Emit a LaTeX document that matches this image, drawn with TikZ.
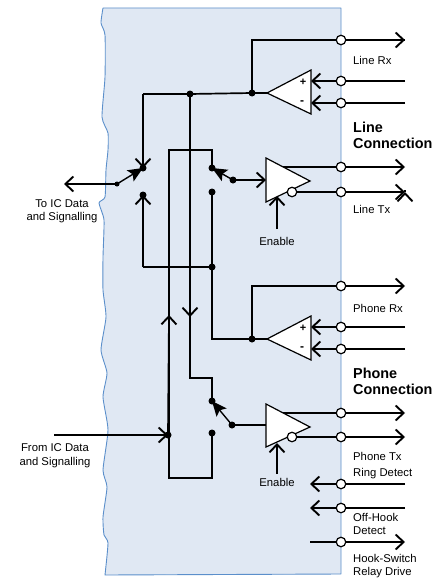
\documentclass[tikz,border=0pt]{standalone}
\usepackage{fontspec}
\setmainfont{Liberation Sans}
\usetikzlibrary{arrows.meta}
\definecolor{panelfill}{HTML}{E0E8F3}
\definecolor{panelline}{HTML}{5B8FCB}
\tikzset{
  wire/.style={line width=1.7pt,line join=miter},
  thin wire/.style={line width=1.4pt},
  open/.style={-{Straight Barb[length=8pt,width=15pt,line width=1.9pt]}},
  openrev/.style={{Straight Barb[length=8pt,width=15pt,line width=1.9pt]}-},
  solid tip/.style={-{Stealth[length=15pt,width=13pt,inset=3pt]}},
  dot/.style={circle,fill=black,draw=none,inner sep=0pt,minimum size=7pt},
  smalldot/.style={circle,fill=black,draw=none,inner sep=0pt,minimum size=5pt},
  port/.style={circle,fill=white,draw=black,line width=1.2pt,inner sep=0pt,minimum size=9.5pt},
  amp/.style={fill=white,draw=black,line width=1.2pt,line join=miter},
  lbl/.style={font=\fontsize{11.3}{13}\selectfont,inner sep=0pt,anchor=base west},
  lblc/.style={font=\fontsize{11.3}{13}\selectfont,inner sep=0pt,anchor=base},
  head/.style={font=\fontsize{14.4}{16}\selectfont\bfseries,inner sep=0pt,anchor=base west},
}
\begin{document}
\begin{tikzpicture}[x=1pt,y=-1pt]
\useasboundingbox (0,0) rectangle (436,578);
% panel
\draw[panelline,fill=panelfill,line width=0.9pt,line join=round]
  plot[smooth,tension=0.35] coordinates {(105,575) (108,543) (104,535) (103,517) (107,487) (103,470) (108,430) (103,397) (107,373) (101,350) (106,317) (103,290) (103,257) (104,220) (99,203) (105,197) (106,170) (108,150) (108,133) (102,117) (105,77) (105,35) (101,23) (103,8)}
  -- (341,8) -- (341,574) -- cycle;

% free ends
\foreach \n/\x/\y in {lrxE/405/40,lpE/405/81,lmE/405/103,ltaE/405/167,ltbE/405/192,
  prxE/405/286,ppE/405/327,pmE/405/349,ptaE/405/413,ptbE/405/437,
  rdE/405/484,ohE/405/508,hsE/405/542,hsW/310/542,rdW/310/484,ohW/310/508,
  lpA/311/81,lmA/311/103,ppA/311/327,pmA/311/349,
  lcO/267/93,pcO/267/339,ltI/266/180,ptI/266/425,
  ltaS/283/167,ptaS/283/413,lenA/277/196,penA/277/443,lenB/277/229,penB/277/474,
  toE/64/184,fromS/54/435,
  c1/143/94,c2/252/40,c3/252/286,c4/169/150,c5/212/150,c6/143/267,c7/212/339,
  c8/190/378,c9/212/378,c10/169/478,c11/212/478}
  {\coordinate (\n) at (\x,\y);}

% nodes on wires
\node[dot] (top) at (190,94) {};
\node[dot] (lcJ) at (252,93) {};
\node[dot] (pcJ) at (252,339) {};
\node[dot] (s1a) at (143,168) {};
\node[dot] (s1b) at (143,195) {};
\node[dot] (s2a) at (212,168) {};
\node[dot] (s2b) at (212,192) {};
\node[dot] (s2c) at (233,180) {};
\node[dot] (mid) at (212,267) {};
\node[dot] (s3a) at (212,401) {};
\node[dot] (s3b) at (212,433) {};
\node[dot] (s3c) at (232,425) {};
\node[dot] (inJ) at (168,435) {};
\node[smalldot] (s1c) at (117,184) {};

% wires
\draw[wire] (lcO) -- (lcJ.center) -- (top.center) -- (c1);
\draw[wire,open] (c1) -- (s1a.center);
\draw[wire] (lcJ.center) -- (c2) -- (lrxE);
\draw[wire,open] (c2) -- (lrxE);
\draw[wire] (pcO) -- (pcJ.center) -- (c7) -- (mid.center) -- (c6);
\draw[wire,open] (c6) -- (s1b.center);
\draw[wire] (mid.center) -- (s2b.center);
\draw[wire,open] (pcJ.center) -- (c3) -- (prxE);
\draw[wire] (s2a.center) -- (c5) -- (c4) -- (c10) -- (c11) -- (s3b.center);
\draw[wire,open] (inJ.center) -- (169,315);
\draw[wire] (top.center) -- (c8) -- (c9) -- (s3a.center);
\draw[wire,open] (top.center) -- (190,317);
\draw[wire,open] (s2c.center) -- (ltI);
\draw[wire] (s3c.center) -- (ptI);
\draw[wire,open] (s1c.center) -- (toE);
\draw[wire,open] (fromS) -- (inJ.center);
\draw[thin wire,solid tip] (s1c.center) -- (s1a.center);
\draw[thin wire,solid tip] (s2c.center) -- (s2a.center);
\draw[thin wire,solid tip] (s3c.center) -- (s3a.center);

% right-hand connections
\foreach \a/\b in {ltaS/ltaE,ltbE/ltbE,ptaS/ptaE}{\draw[wire,open] (\a) -- (\b);}
\draw[wire,open] (292,192) -- (ltbE);
\draw[wire,open] (292,437) -- (ptbE);
\draw[wire,open] (lpE) -- (lpA);
\draw[wire,open] (lmE) -- (lmA);
\draw[wire,open] (ppE) -- (ppA);
\draw[wire,open] (pmE) -- (pmA);
\draw[wire,open] (rdE) -- (rdW);
\draw[wire,open] (ohE) -- (ohW);
\draw[wire,open] (hsW) -- (hsE);
\draw[thin wire,open] (lenB) -- (lenA);
\draw[thin wire,open] (penB) -- (penA);

% amplifiers
\draw[amp] (lcO) -- (311,70) -- (311,114) -- cycle;
\draw[amp] (pcO) -- (311,316) -- (311,360) -- cycle;
\draw[amp] (266,158) -- (310,181) -- (266,202) -- cycle;
\draw[amp] (266,404) -- (310,427) -- (266,447) -- cycle;
\node[port] (lbub) at (292,192) {};
\node[port] (pbub) at (292,437) {};
\node[inner sep=0pt,font=\fontsize{11}{12}\selectfont\bfseries] (lplus) at (303,82) {+};
\node[inner sep=0pt,font=\fontsize{12}{12}\selectfont\bfseries] (lminus) at (302,103) {-};
\node[inner sep=0pt,font=\fontsize{11}{12}\selectfont\bfseries] (pplus) at (303,328) {+};
\node[inner sep=0pt,font=\fontsize{12}{12}\selectfont\bfseries] (pminus) at (302,349) {-};

% ports
\foreach \n/\y in {p1/40,p2/81,p3/103,p4/167,p5/192,p6/286,p7/327,p8/349,p9/413,p10/437,p11/484,p12/508,p13/542}
  {\node[port] (\n) at (341,\y) {};}

% labels
\node[lbl] (t1) at (353,64) {Line Rx};
\node[lbl] (t2) at (353,213) {Line Tx};
\node[lbl] (t3) at (353,312) {Phone Rx};
\node[lbl] (t4) at (353,460) {Phone Tx};
\node[lbl] (t5) at (353,476) {Ring Detect};
\node[lbl] (t6) at (353,521) {Off-Hook};
\node[lbl] (t7) at (353,534) {Detect};
\node[lbl] (t8) at (353,562) {Hook-Switch};
\node[lbl] (t9) at (353,575) {Relay Drive};
\node[head] (h1) at (353,132) {Line};
\node[head] (h2) at (353,148) {Connection};
\node[head] (h3) at (353,378) {Phone};
\node[head] (h4) at (353,394) {Connection};
\node[lblc] (e1) at (277,245) {Enable};
\node[lblc] (e2) at (277,486) {Enable};
\node[lblc] (l1) at (62,207) {To IC Data};
\node[lblc] (l2) at (62,220) {and Signalling};
\node[lblc] (l3) at (55,451) {From IC Data};
\node[lblc] (l4) at (55,465) {and Signalling};
\end{tikzpicture}
\end{document}
